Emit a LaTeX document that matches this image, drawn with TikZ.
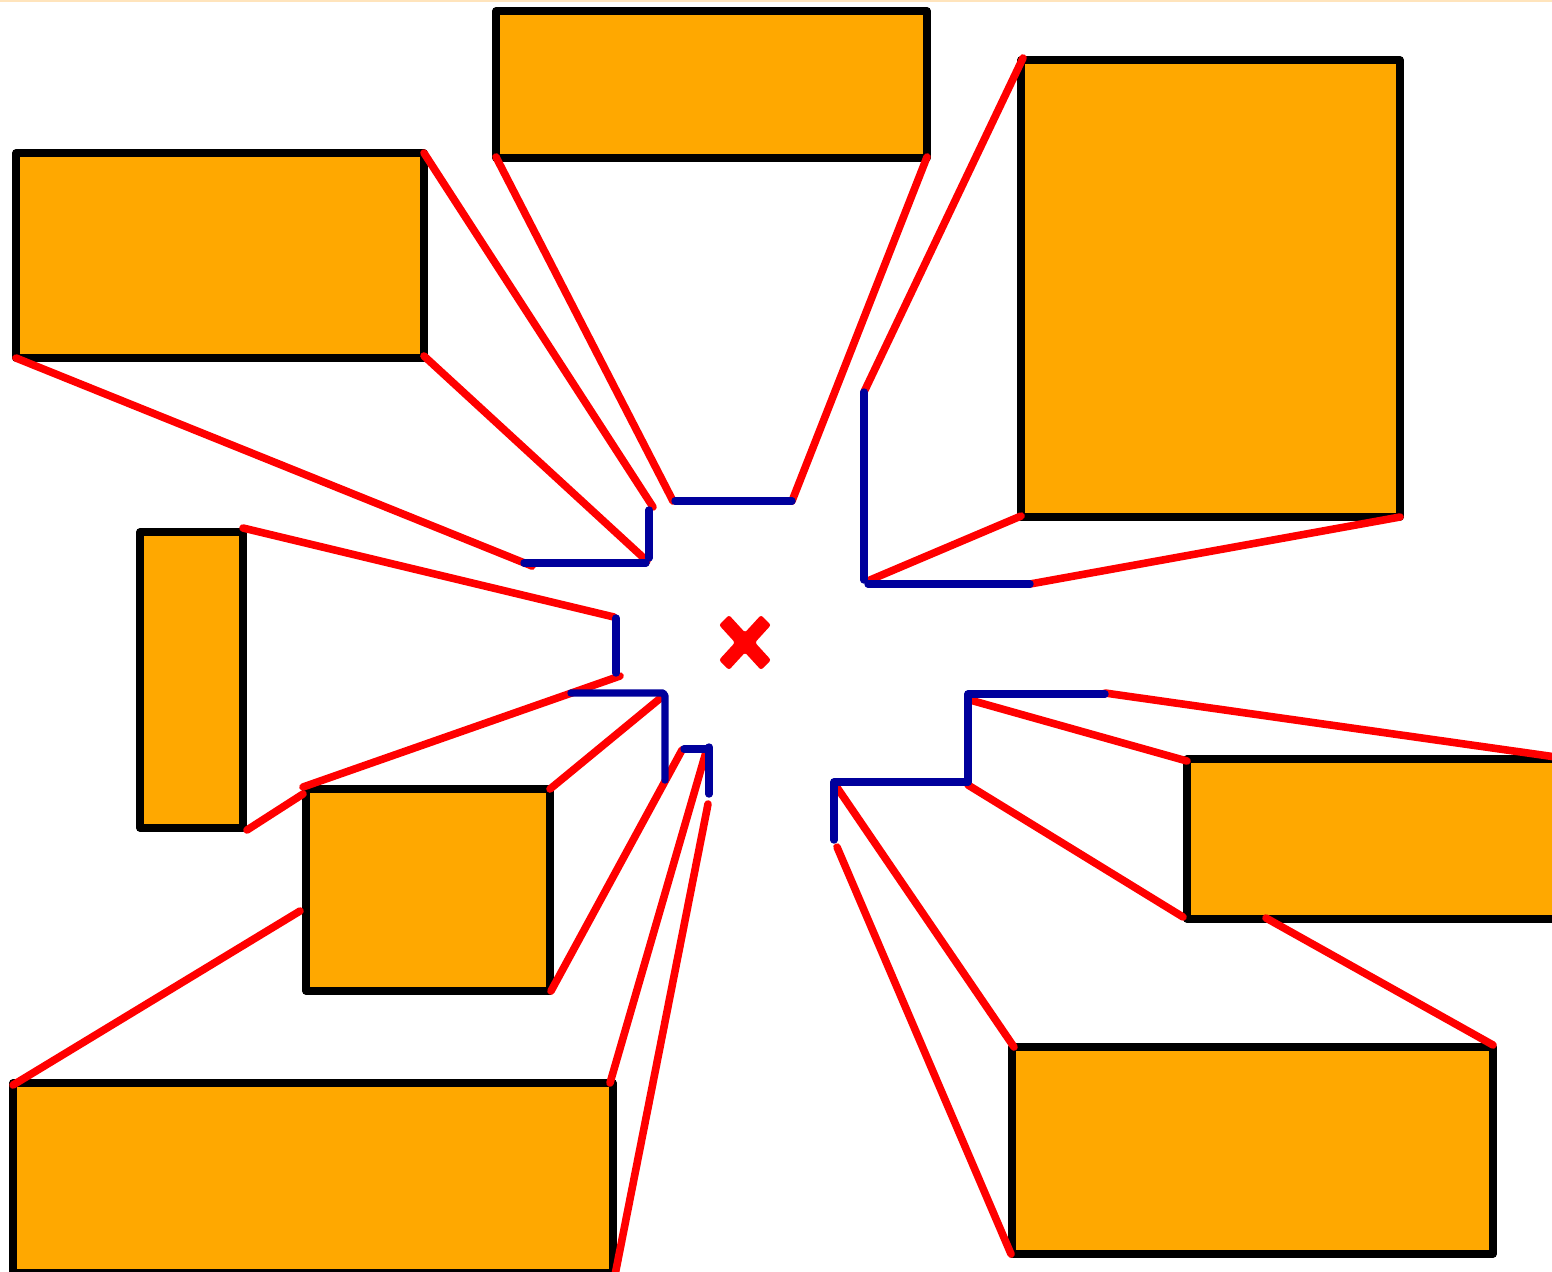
\documentclass[tikz,border=0pt]{standalone}
\definecolor{boxfill}{HTML}{FFA800}
\definecolor{rayred}{HTML}{FF0000}
\definecolor{wallblue}{HTML}{00009C}
\definecolor{topstrip}{HTML}{FFE4BC}
\tikzset{
  boxshape/.style={draw=black,fill=boxfill,line width=3.7pt,line join=round},
  ray/.style={draw=rayred,line width=3.8pt,line cap=round},
  wall/.style={draw=wallblue,line width=3.7pt,line cap=round,line join=round},
  crossmark/.style={fill=rayred,rounded corners=1.2pt}
}
\begin{document}
\begin{tikzpicture}[x=0.5pt,y=-0.5pt]
\path[use as bounding box] (0,0) rectangle (1552,1271);
\clip (0,0) rectangle (1552,1271);
\fill[white] (0,0) rectangle (1552,1271);
\fill[topstrip] (0,0) rectangle (1552,2);
% boxes
\path[boxshape] (496,11) rectangle (927,158);
\path[boxshape] (16,153) rectangle (424,358);
\path[boxshape] (1021,60) rectangle (1400,517);
\path[boxshape] (140,532) rectangle (243,828);
\path[boxshape] (306,789) rectangle (550,991);
\path[boxshape] (13,1083) rectangle (613,1273);
\path[boxshape] (1187,759) rectangle (1562,919);
\path[boxshape] (1012,1047) rectangle (1493,1254);
% rays
\path[ray] (424,153) -- (653,507);
\path[ray] (496,157) -- (673,501);
\path[ray] (927,157) -- (792,501);
\path[ray] (1023,58) -- (864,392);
\path[ray] (1021,516) -- (870,580);
\path[ray] (1400,517) -- (1030,584);
\path[ray] (424,356) -- (647,561);
\path[ray] (16,358) -- (532,566);
\path[ray] (243,528) -- (614,617);
\path[ray] (620,676) -- (303,787);
\path[ray] (303,794) -- (247,830);
\path[ray] (663,696) -- (550,789);
\path[ray] (682,750) -- (551,991);
\path[ray] (706,752) -- (610,1083);
\path[ray] (708,804) -- (615,1275);
\path[ray] (300,911) -- (13,1085);
\path[ray] (836,786) -- (1014,1047);
\path[ray] (837,847) -- (1011,1254);
\path[ray] (970,700) -- (1187,761);
\path[ray] (968,785) -- (1183,917);
\path[ray] (1105,693) -- (1556,757);
\path[ray] (1266,918) -- (1493,1045);
% walls
\path[wall] (675,501) -- (792,501);
\path[wall] (649,510) -- (649,558);
\path[wall] (524,563) -- (646,563);
\path[wall] (616,618) -- (616,673);
\path[wall] (571,693) -- (663,693) -- (665,696) -- (665,780);
\path[wall] (684,749) -- (708,749);
\path[wall] (709,747) -- (709,794);
\path[wall] (864,392) -- (864,580);
\path[wall] (868,584) -- (1030,584);
\path[wall] (968,782) -- (968,694) -- (1105,694);
\path[wall] (968,782) -- (834,782) -- (834,840);
% cross
\path[crossmark] (761,615) -- (771,625) -- (755,642.5) -- (771,660) -- (761,670) -- (745,652.5) -- (729,670) -- (719,660) -- (735,642.5) -- (719,625) -- (729,615) -- (745,632.5) -- cycle;
\end{tikzpicture}
\end{document}
